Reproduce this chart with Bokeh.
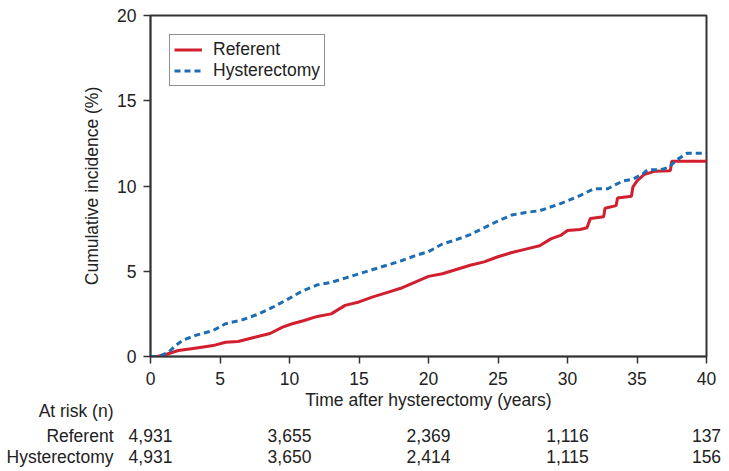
from bokeh.plotting import figure
from bokeh.models import Range1d, FixedTicker, Legend, LegendItem
from bokeh.layouts import column
from bokeh.core.properties import value
from bokeh.embed import file_html
from bokeh.resources import INLINE

# ---- data ----
ref_t = [0, 0.5, 1.1, 2.0, 3.2, 4.5, 5.4, 6.3, 7.5, 8.6, 9.5, 10.2, 11.0,
         12.0, 13.0, 13.5, 14.0, 15.0, 16.0, 17.0, 18.0, 19.0, 20.0, 21.0,
         22.0, 23.0, 24.0, 25.0, 26.0, 27.0, 28.0, 28.8, 29.5, 30.0, 30.9,
         31.4, 31.65, 32.6, 32.7, 33.5, 33.6, 34.6, 34.7, 35.0, 35.5, 36.3,
         37.4, 37.5, 40.0]
ref_v = [0, 0, 0.12, 0.35, 0.49, 0.64, 0.84, 0.88, 1.13, 1.35, 1.72, 1.92, 2.1,
         2.35, 2.5, 2.75, 3.0, 3.2, 3.5, 3.75, 4.0, 4.35, 4.7, 4.85,
         5.1, 5.35, 5.55, 5.85, 6.1, 6.3, 6.5, 6.9, 7.1, 7.39, 7.45,
         7.55, 8.1, 8.2, 8.7, 8.85, 9.3, 9.4, 9.93, 10.3, 10.67, 10.87,
         10.9, 11.45, 11.45]

hys_t = [0, 0.6, 1.3, 1.8, 2.3, 3.2, 4.5, 5.4, 6.6, 7.8, 8.8, 9.7, 10.9,
         12.0, 13.0, 14.0, 15.0, 16.0, 17.0, 18.0, 19.0, 20.0, 21.0, 22.0, 23.0,
         24.0, 25.0, 26.0, 27.0, 28.0, 29.5, 30.2, 30.9, 31.9, 32.9, 33.5, 34.0,
         34.7, 35.4, 35.75, 36.7, 37.3, 37.8, 38.6, 40.0]
hys_v = [0, 0, 0.25, 0.64, 0.94, 1.23, 1.52, 1.92, 2.15, 2.5, 2.89, 3.28, 3.83,
         4.2, 4.35, 4.6, 4.85, 5.1, 5.35, 5.6, 5.9, 6.15, 6.6, 6.85, 7.15,
         7.55, 7.95, 8.3, 8.45, 8.55, 8.97, 9.2, 9.44, 9.84, 9.84, 10.1, 10.3,
         10.4, 10.7, 10.95, 10.95, 11.1, 11.5, 11.92, 11.92]

x_ticks = [0, 5, 10, 15, 20, 25, 30, 35, 40]
y_ticks = [0, 5, 10, 15, 20]

risk_times = [0, 10, 20, 30, 40]
risk_referent = ["4,931", "3,655", "2,369", "1,116", "137"]
risk_hyst = ["4,931", "3,650", "2,414", "1,115", "156"]
row_labels = ["At risk (n)", "Referent", "Hysterectomy"]
x_title = "Time after hysterectomy (years)"

RED = "#D11F2F"
BLUE = "#1C6DB3"
FONT = "Liberation Sans"
FS = "17.5px"
TXT = "#222222"

W = 729
LEFT, RIGHT_FRAME = 150, 706
X0, X1 = 0, 40

# ---------------- main chart ----------------
p = figure(width=W, height=390, output_backend="svg", toolbar_location=None,
           x_range=Range1d(X0, X1), y_range=Range1d(0, 20),
           min_border_left=LEFT, min_border_right=W - RIGHT_FRAME, min_border_top=15,
           min_border_bottom=34)
p.frame_align = False
p.xgrid.visible = False
p.ygrid.visible = False
p.outline_line_color = "#333333"
p.outline_line_width = 2

r1 = p.line(ref_t, ref_v, line_color=RED, line_width=3)
r2 = p.line(hys_t, hys_v, line_color=BLUE, line_width=3, line_dash="6 4")

for ax in (p.xaxis[0], p.yaxis[0]):
    ax.axis_line_color = "#333333"
    ax.axis_line_width = 1.5
    ax.major_tick_line_color = "#333333"
    ax.major_tick_line_width = 1.5
    ax.major_tick_out = 7
    ax.major_tick_in = 0
    ax.minor_tick_line_color = None
    ax.major_label_text_font = FONT
    ax.major_label_text_font_size = FS
    ax.major_label_text_color = TXT
    ax.axis_label_text_font = FONT
    ax.axis_label_text_font_size = FS
    ax.axis_label_text_font_style = "normal"
    ax.axis_label_text_color = TXT

p.xaxis.ticker = FixedTicker(ticks=x_ticks)
p.yaxis.ticker = FixedTicker(ticks=y_ticks)
p.xaxis.major_label_standoff = 8
p.yaxis.major_label_standoff = 7
p.yaxis.axis_label = "Cumulative incidence (%)"
p.yaxis.axis_label_standoff = 12

legend = Legend(items=[LegendItem(label="Referent", renderers=[r1]),
                       LegendItem(label="Hysterectomy", renderers=[r2])],
                location="top_left", margin=19, padding=4, spacing=0,
                label_text_font=FONT, label_text_font_size=FS,
                label_text_color=TXT,
                glyph_width=28, glyph_height=19, label_height=19,
                label_standoff=11,
                border_line_color="#222222", border_line_width=1.5,
                background_fill_alpha=1.0)
p.add_layout(legend)

# ---------------- x title + at-risk table (same x scale as the chart) ----------------
H2 = 81
scale = (RIGHT_FRAME - LEFT) / (X1 - X0)
t = figure(width=W, height=H2, output_backend="svg", toolbar_location=None,
           x_range=Range1d(X0 - LEFT / scale, X0 + (W - LEFT) / scale),
           y_range=Range1d(0, H2),
           min_border_left=0, min_border_right=0, min_border_top=0,
           min_border_bottom=0, x_axis_location=None, y_axis_location=None)
t.frame_align = False
t.xgrid.visible = False
t.ygrid.visible = False
t.outline_line_color = None

common = dict(text_font=value(FONT), text_font_size=FS, text_color=TXT,
              text_baseline="middle")
# positions (pixels from the bottom of this strip)
y_title, y_head, y_ref, y_hys = 72, 61, 36, 15
x_rowlab = -37 / scale

t.text(x=[(X0 + X1) / 2], y=[y_title], text=[x_title], text_align="center", **common)
t.text(x=[x_rowlab] * 3, y=[y_head, y_ref, y_hys], text=row_labels,
       text_align="right", **common)
t.text(x=risk_times, y=[y_ref] * len(risk_times), text=risk_referent,
       text_align="center", **common)
t.text(x=risk_times, y=[y_hys] * len(risk_times), text=risk_hyst,
       text_align="center", **common)

layout = column(p, t, spacing=0)
open("out.html", "w").write(file_html(layout, INLINE))
